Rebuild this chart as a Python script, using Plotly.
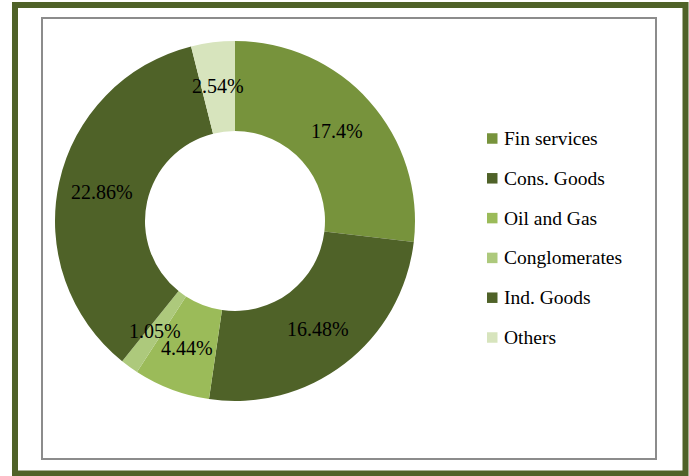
import math
import plotly.graph_objects as go

categories = ["Fin services", "Cons. Goods", "Oil and Gas", "Conglomerates", "Ind. Goods", "Others"]
values = [17.4, 16.48, 4.44, 1.05, 22.86, 2.54]
value_labels = ["17.4%", "16.48%", "4.44%", "1.05%", "22.86%", "2.54%"]
colors = ["#77933C", "#4F6228", "#9BBB59", "#ADC97C", "#4F6228", "#D7E4BD"]

W, H = 689, 476
FONT = "Liberation Serif"

# pie geometry (pixels)
cx, cy, R = 235, 221, 180
hole = 0.5

fig = go.Figure()
fig.add_trace(go.Pie(
    labels=categories, values=values,
    marker=dict(colors=colors, line=dict(width=0)),
    hole=hole, sort=False, direction="clockwise", rotation=0,
    textinfo="none", hoverinfo="label+value", showlegend=False,
    domain=dict(x=[(cx - R) / W, (cx + R) / W], y=[(H - cy - R) / H, (H - cy + R) / H]),
))

annotations = []
total = sum(values)
cum = 0.0
rmid = R * (1 + hole) / 2 + 1
for v, lab in zip(values, value_labels):
    ang = (cum + v / 2) / total * 2 * math.pi
    cum += v
    px = cx + rmid * math.sin(ang)
    py = cy - rmid * math.cos(ang)
    annotations.append(dict(x=px / W, y=1 - py / H, xref="paper", yref="paper",
                            xanchor="center", yanchor="middle",
                            text=lab, showarrow=False,
                            font=dict(family=FONT, size=20, color="#000000")))

shapes = [
    dict(type="rect", xref="paper", yref="paper",
         x0=15 / W, x1=685.5 / W, y0=1 - 473.5 / H, y1=1 - 5 / H,
         line=dict(color="#4F6228", width=6), fillcolor="rgba(0,0,0,0)"),
    dict(type="rect", xref="paper", yref="paper",
         x0=42 / W, x1=656 / W, y0=1 - 459 / H, y1=1 - 18 / H,
         line=dict(color="#8C8C8C", width=2), fillcolor="rgba(0,0,0,0)"),
]

# manual legend
leg_x, leg_y0, leg_dy = 487, 138.5, 39.8
for i, (cat, col) in enumerate(zip(categories, colors)):
    yc = leg_y0 + i * leg_dy
    shapes.append(dict(type="rect", xref="paper", yref="paper",
                       x0=leg_x / W, x1=(leg_x + 10.5) / W,
                       y0=1 - (yc + 5.25) / H, y1=1 - (yc - 5.25) / H,
                       line=dict(width=0), fillcolor=col))
    annotations.append(dict(x=(leg_x + 15) / W, y=1 - yc / H, xref="paper", yref="paper",
                            xanchor="left", yanchor="middle", text=cat, showarrow=False,
                            font=dict(family=FONT, size=19.5, color="#000000")))

fig.update_layout(
    width=W, height=H, margin=dict(l=0, r=0, t=0, b=0),
    paper_bgcolor="white", plot_bgcolor="white",
    font=dict(family=FONT),
    shapes=shapes, annotations=annotations,
)
fig.write_html("out.html")
